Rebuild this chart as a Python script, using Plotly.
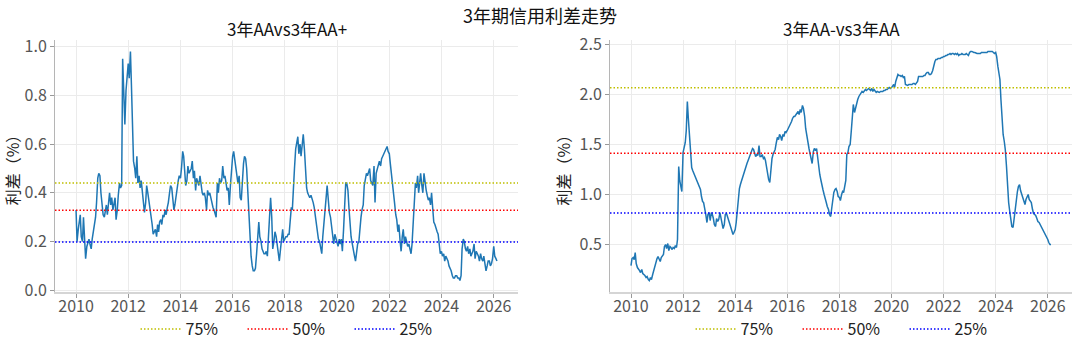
import pandas as pd
import plotly.graph_objects as go

# Semi-monthly credit spread observations (%), Jan 2010 - Feb 2026
aa_vs_aaplus = [
    0.33, 0.20, 0.25, 0.28, 0.31, 0.22, 0.20, 0.30, 0.19, 0.13, 0.18, 0.20, 0.21, 0.19, 0.17, 0.21, 0.24, 0.27, 0.30, 0.36, 0.46, 0.48, 0.47, 0.40,
    0.36, 0.31, 0.30, 0.32, 0.35, 0.31, 0.36, 0.40, 0.35, 0.38, 0.33, 0.36, 0.38, 0.29, 0.33, 0.39, 0.44, 0.42, 0.43, 0.95, 0.79, 0.68, 0.82, 0.86,
    0.93, 0.87, 0.98, 0.84, 0.60, 0.53, 0.50, 0.46, 0.55, 0.44, 0.47, 0.42, 0.45, 0.40, 0.35, 0.32, 0.36, 0.43, 0.40, 0.37, 0.35, 0.32, 0.27, 0.23,
    0.24, 0.25, 0.22, 0.27, 0.24, 0.28, 0.29, 0.27, 0.31, 0.30, 0.33, 0.31, 0.34, 0.36, 0.40, 0.43, 0.42, 0.37, 0.33, 0.35, 0.39, 0.43, 0.45, 0.47,
    0.46, 0.50, 0.57, 0.55, 0.47, 0.43, 0.45, 0.51, 0.48, 0.49, 0.50, 0.53, 0.46, 0.49, 0.41, 0.46, 0.44, 0.43, 0.47, 0.43, 0.40, 0.39, 0.40, 0.38,
    0.33, 0.41, 0.39, 0.40, 0.38, 0.35, 0.34, 0.33, 0.31, 0.30, 0.44, 0.40, 0.46, 0.44, 0.45, 0.51, 0.46, 0.47, 0.44, 0.41, 0.42, 0.35, 0.43, 0.51,
    0.55, 0.57, 0.53, 0.50, 0.48, 0.44, 0.47, 0.38, 0.37, 0.45, 0.52, 0.55, 0.54, 0.50, 0.40, 0.30, 0.21, 0.14, 0.10, 0.08, 0.08, 0.09, 0.15, 0.20,
    0.28, 0.22, 0.20, 0.17, 0.16, 0.15, 0.15, 0.16, 0.14, 0.23, 0.31, 0.38, 0.30, 0.17, 0.20, 0.24, 0.22, 0.18, 0.15, 0.12, 0.17, 0.21, 0.25, 0.20,
    0.21, 0.22, 0.22, 0.23, 0.23, 0.28, 0.34, 0.33, 0.44, 0.50, 0.58, 0.61, 0.63, 0.56, 0.60, 0.55, 0.59, 0.64, 0.58, 0.50, 0.42, 0.40, 0.39, 0.38,
    0.39, 0.38, 0.36, 0.34, 0.31, 0.28, 0.23, 0.21, 0.20, 0.18, 0.15, 0.22, 0.29, 0.32, 0.38, 0.43, 0.35, 0.32, 0.30, 0.26, 0.22, 0.19, 0.23, 0.21,
    0.20, 0.18, 0.21, 0.19, 0.21, 0.16, 0.25, 0.38, 0.44, 0.44, 0.41, 0.34, 0.27, 0.22, 0.19, 0.16, 0.14, 0.12, 0.15, 0.19, 0.20, 0.26, 0.30, 0.33,
    0.35, 0.43, 0.46, 0.48, 0.47, 0.49, 0.50, 0.45, 0.44, 0.43, 0.51, 0.36, 0.48, 0.50, 0.52, 0.53, 0.51, 0.54, 0.55, 0.56, 0.57, 0.58, 0.59, 0.57,
    0.56, 0.52, 0.48, 0.45, 0.41, 0.36, 0.31, 0.29, 0.24, 0.27, 0.20, 0.16, 0.22, 0.25, 0.19, 0.22, 0.20, 0.18, 0.19, 0.17, 0.15, 0.19, 0.26, 0.36,
    0.44, 0.42, 0.47, 0.40, 0.44, 0.48, 0.43, 0.40, 0.48, 0.44, 0.41, 0.39, 0.37, 0.38, 0.35, 0.40, 0.33, 0.28, 0.27, 0.25, 0.24, 0.23, 0.19, 0.15,
    0.16, 0.14, 0.15, 0.12, 0.14, 0.13, 0.12, 0.10, 0.09, 0.08, 0.06, 0.05, 0.05, 0.06, 0.06, 0.05, 0.05, 0.04, 0.06, 0.17, 0.21, 0.20, 0.17, 0.16,
    0.18, 0.15, 0.17, 0.14, 0.15, 0.16, 0.19, 0.13, 0.16, 0.15, 0.14, 0.12, 0.15, 0.13, 0.12, 0.14, 0.10, 0.08, 0.10, 0.12, 0.12, 0.10, 0.11, 0.13,
    0.18, 0.14, 0.13, 0.12,
]

aaminus_vs_aa = [
    0.29, 0.36, 0.37, 0.35, 0.42, 0.31, 0.27, 0.26, 0.24, 0.22, 0.25, 0.21, 0.20, 0.19, 0.17, 0.18, 0.15, 0.14, 0.17, 0.15, 0.20, 0.24, 0.28, 0.32,
    0.36, 0.38, 0.36, 0.33, 0.37, 0.39, 0.40, 0.48, 0.50, 0.46, 0.51, 0.44, 0.48, 0.47, 0.45, 0.47, 0.46, 0.49, 0.47, 0.55, 1.28, 1.14, 1.08, 1.03,
    1.42, 1.46, 1.52, 1.64, 1.93, 1.76, 1.56, 1.40, 1.27, 1.24, 1.21, 1.19, 1.17, 1.15, 1.12, 1.09, 1.05, 0.98, 0.93, 0.92, 0.87, 0.80, 0.72, 0.80,
    0.82, 0.74, 0.82, 0.80, 0.76, 0.70, 0.68, 0.76, 0.73, 0.75, 0.82, 0.76, 0.70, 0.66, 0.70, 0.80, 0.81, 0.77, 0.74, 0.71, 0.67, 0.63, 0.60, 0.62,
    0.65, 0.72, 0.85, 0.98, 1.06, 1.10, 1.14, 1.19, 1.23, 1.26, 1.29, 1.31, 1.34, 1.37, 1.40, 1.42, 1.46, 1.45, 1.41, 1.38, 1.40, 1.39, 1.49, 1.38,
    1.38, 1.40, 1.36, 1.37, 1.34, 1.28, 1.20, 1.15, 1.12, 1.28, 1.36, 1.40, 1.42, 1.45, 1.52, 1.57, 1.55, 1.60, 1.58, 1.54, 1.60, 1.58, 1.63, 1.62,
    1.64, 1.66, 1.68, 1.70, 1.73, 1.76, 1.78, 1.78, 1.80, 1.81, 1.83, 1.80, 1.85, 1.82, 1.89, 1.86, 1.78, 1.66, 1.58, 1.53, 1.46, 1.41, 1.36, 1.31,
    1.43, 1.46, 1.44, 1.46, 1.38, 1.28, 1.20, 1.15, 1.11, 1.05, 1.00, 0.97, 0.92, 0.88, 0.85, 0.80, 0.78, 0.86, 0.96, 1.02, 1.05, 1.06, 1.03, 0.98,
    0.97, 0.94, 1.00, 1.03, 1.02, 1.08, 1.14, 1.40, 1.42, 1.48, 1.50, 1.62, 1.75, 1.90, 1.82, 1.87, 1.93, 1.95, 1.98, 2.00, 2.01, 2.03, 2.02, 2.04,
    2.05, 2.04, 2.05, 2.06, 2.05, 2.04, 2.06, 2.03, 2.05, 2.04, 2.02, 2.03, 2.02, 2.02, 2.03, 2.03, 2.03, 2.04, 2.04, 2.05, 2.05, 2.06, 2.07, 2.06,
    2.07, 2.08, 2.10, 2.07, 2.13, 2.17, 2.20, 2.19, 2.19, 2.18, 2.19, 2.17, 2.18, 2.10, 2.09, 2.09, 2.10, 2.10, 2.10, 2.10, 2.11, 2.11, 2.10, 2.12,
    2.13, 2.18, 2.18, 2.18, 2.18, 2.18, 2.19, 2.19, 2.21, 2.22, 2.22, 2.20, 2.20, 2.21, 2.24, 2.30, 2.33, 2.35, 2.35, 2.36, 2.36, 2.36, 2.37, 2.37,
    2.38, 2.38, 2.39, 2.39, 2.40, 2.40, 2.41, 2.40, 2.41, 2.41, 2.40, 2.41, 2.40, 2.41, 2.39, 2.40, 2.40, 2.41, 2.40, 2.40, 2.40, 2.41, 2.40, 2.39,
    2.42, 2.43, 2.43, 2.42, 2.42, 2.42, 2.41, 2.41, 2.41, 2.41, 2.41, 2.42, 2.42, 2.42, 2.42, 2.42, 2.42, 2.43, 2.43, 2.43, 2.43, 2.43, 2.42, 2.41,
    2.42, 2.38, 2.28, 2.22, 2.15, 1.95, 1.70, 1.60, 1.53, 1.45, 1.28, 1.05, 0.92, 0.84, 0.74, 0.68, 0.67, 0.76, 0.88, 0.97, 1.03, 1.08, 1.10, 1.04,
    1.00, 0.96, 0.92, 0.90, 0.95, 0.98, 1.00, 0.95, 0.93, 0.92, 0.85, 0.81, 0.80, 0.79, 0.76, 0.73, 0.72, 0.70, 0.69, 0.67, 0.64, 0.61, 0.59, 0.57,
    0.55, 0.52, 0.50, 0.50,
]

dates = pd.date_range("2010-01-01", periods=len(aa_vs_aaplus), freq="SMS")

# Historical quantiles of each spread
quantile_labels = ["75%", "50%", "25%"]
quantile_colors = ["#bfbf00", "#ff0000", "#0000ff"]
aa_vs_aaplus_quantiles = [0.44, 0.328, 0.198]
aaminus_vs_aa_quantiles = [2.067, 1.413, 0.815]

titles = ["3年AAvs3年AA+", "3年AA-vs3年AA"]
main_title = "3年期信用利差走势"
y_label = "利差（%）"

FONT = "Noto Sans CJK SC, Noto Sans, sans-serif"
W, H = 1080, 350

# 5% padding around the data, both axes
span = dates[-1] - dates[0]
x_range = [dates[0] - span * 0.05, dates[-1] + span * 0.05]


def padded(vals):
    lo, hi = min(vals), max(vals)
    pad = (hi - lo) * 0.05
    return [lo - pad, hi + pad]


fig = go.Figure()

panels = [
    (aa_vs_aaplus, aa_vs_aaplus_quantiles, "x", "y", "legend"),
    (aaminus_vs_aa, aaminus_vs_aa_quantiles, "x2", "y2", "legend2"),
]
for series, qs, xa, ya, lg in panels:
    fig.add_trace(go.Scatter(
        x=dates, y=series, mode="lines", xaxis=xa, yaxis=ya,
        line=dict(color="#1f77b4", width=1.5), showlegend=False,
        hoverinfo="skip",
    ))
    for label, color, q in zip(quantile_labels, quantile_colors, qs):
        fig.add_trace(go.Scatter(
            x=x_range, y=[q, q], mode="lines", xaxis=xa, yaxis=ya,
            name=label, legend=lg,
            line=dict(color=color, width=1.5, dash="1.5px,2px"),
        ))

px_x = lambda p: p / W
px_y = lambda p: 1 - p / H

tick_font = dict(family=FONT, size=16, color="#555555")

common_x = dict(
    type="date", range=x_range, tick0="2010-01-01", dtick="M24",
    tickformat="%Y", showgrid=True, gridcolor="#ebebeb", gridwidth=1,
    ticks="outside", ticklen=4, tickcolor="#999999", ticklabelstandoff=-5,
    showline=True, linecolor="#d5d5d5", linewidth=2,
    tickfont=tick_font, zeroline=False, automargin=False,
)
common_y = dict(
    showgrid=True, gridcolor="#ebebeb", gridwidth=1, tickformat=".1f",
    ticks="outside", ticklen=4, tickcolor="#999999",
    showline=True, linecolor="#b5b5b5", linewidth=1,
    tickfont=tick_font, zeroline=False, automargin=False,
    title=dict(text=y_label, font=dict(family=FONT, size=16, color="#222222"), standoff=4),
)

legend_common = dict(
    orientation="h", xanchor="center", y=px_y(329), yanchor="middle",
    font=dict(family=FONT, size=16, color="#222222"),
    itemwidth=40, entrywidth=52, entrywidthmode="pixels",
    bgcolor="rgba(0,0,0,0)",
)

ydom = [px_y(292), px_y(40)]
fig.update_layout(
    template="none",
    width=W, height=H,
    margin=dict(l=0, r=0, t=0, b=0, autoexpand=False),
    paper_bgcolor="white", plot_bgcolor="white",
    font=dict(family=FONT, size=14, color="#222222"),
    xaxis=dict(common_x, domain=[px_x(55), px_x(518)], anchor="y"),
    yaxis=dict(common_y, domain=ydom, anchor="x", range=padded(aa_vs_aaplus), dtick=0.2),
    xaxis2=dict(common_x, domain=[px_x(610), px_x(1072)], anchor="y2"),
    yaxis2=dict(common_y, domain=ydom, anchor="x2", range=padded(aaminus_vs_aa), dtick=0.5),
    legend=dict(legend_common, x=px_x(296)),
    legend2=dict(legend_common, x=px_x(851)),
    showlegend=True,
    annotations=[
        dict(text=main_title, x=0.5, y=px_y(15), xref="paper", yref="paper",
             showarrow=False, font=dict(family=FONT, size=18, color="#111111"),
             xanchor="center", yanchor="middle"),
        dict(text=titles[0], x=px_x(287), y=px_y(29), xref="paper", yref="paper",
             showarrow=False, font=dict(family=FONT, size=17, color="#111111"),
             xanchor="center", yanchor="middle"),
        dict(text=titles[1], x=px_x(841), y=px_y(29), xref="paper", yref="paper",
             showarrow=False, font=dict(family=FONT, size=17, color="#111111"),
             xanchor="center", yanchor="middle"),
    ],
)

fig.write_html("out.html")
